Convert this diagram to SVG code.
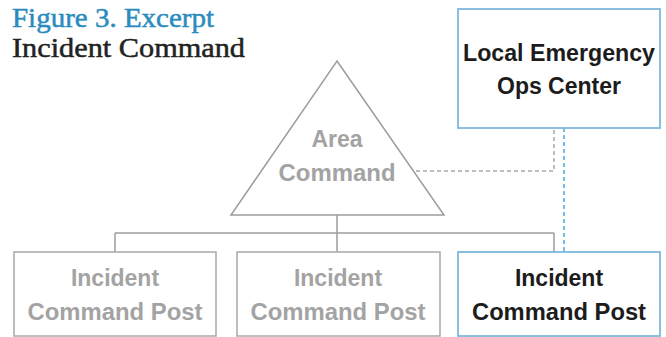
<svg xmlns="http://www.w3.org/2000/svg" width="666" height="337" viewBox="0 0 666 337">
<style>
.title{font-family:"Liberation Serif",serif;font-size:28px;stroke-width:0.5}
.lbl{font-family:"Liberation Sans",Arial,sans-serif;font-weight:bold;font-size:23px;text-anchor:middle}
.gray{fill:#a3a3a3}
.dark{fill:#1c1c1c}
.gbox{fill:#fff;stroke:#a8a8a8;stroke-width:1.5}
.bbox{fill:#fff;stroke:#7db9dc;stroke-width:1.8}
.tree{fill:none;stroke:#9d9d9d;stroke-width:1.5}
</style>
<rect width="666" height="337" fill="#fff"/>
<text class="title" x="12" y="27" fill="#2a8bbd" stroke="#2a8bbd" textLength="202" lengthAdjust="spacingAndGlyphs">Figure 3. Excerpt</text>
<text class="title" x="12" y="57" fill="#222" stroke="#222" textLength="233" lengthAdjust="spacingAndGlyphs">Incident Command</text>
<g id="connectors">
<path class="tree" d="M337 215 V233 M115 233 H554 M115 233 V252 M337 233 V252 M554 233 V252"/>
<path d="M416 171 H554 V128" fill="none" stroke="#a8a8a8" stroke-width="1.5" stroke-dasharray="4 3"/>
<path d="M564 128 V252" fill="none" stroke="#4ea6d8" stroke-width="1.5" stroke-dasharray="4 3"/>
</g>
<g id="local-eoc">
<rect class="bbox" x="458" y="9" width="202" height="119"/>
<text class="lbl dark" x="559" y="61" textLength="192" lengthAdjust="spacingAndGlyphs">Local Emergency</text>
<text class="lbl dark" x="559" y="94">Ops Center</text>
</g>
<g id="area-command">
<polygon points="337,61 444,215 231,215" fill="#fff" stroke="#9d9d9d" stroke-width="1.5"/>
<text class="lbl gray" x="337" y="147">Area</text>
<text class="lbl gray" x="337" y="181" textLength="117" lengthAdjust="spacingAndGlyphs">Command</text>
</g>
<g id="icp1">
<rect class="gbox" x="14" y="252" width="202" height="84"/>
<text class="lbl gray" x="115" y="286">Incident</text>
<text class="lbl gray" x="115" y="320" textLength="175" lengthAdjust="spacingAndGlyphs">Command Post</text>
</g>
<g id="icp2">
<rect class="gbox" x="237" y="252" width="203" height="84"/>
<text class="lbl gray" x="338" y="286">Incident</text>
<text class="lbl gray" x="338" y="320" textLength="175" lengthAdjust="spacingAndGlyphs">Command Post</text>
</g>
<g id="icp3">
<rect class="bbox" x="458" y="252" width="202" height="84"/>
<text class="lbl dark" x="559" y="286">Incident</text>
<text class="lbl dark" x="559" y="320" textLength="174" lengthAdjust="spacingAndGlyphs">Command Post</text>
</g>
</svg>
